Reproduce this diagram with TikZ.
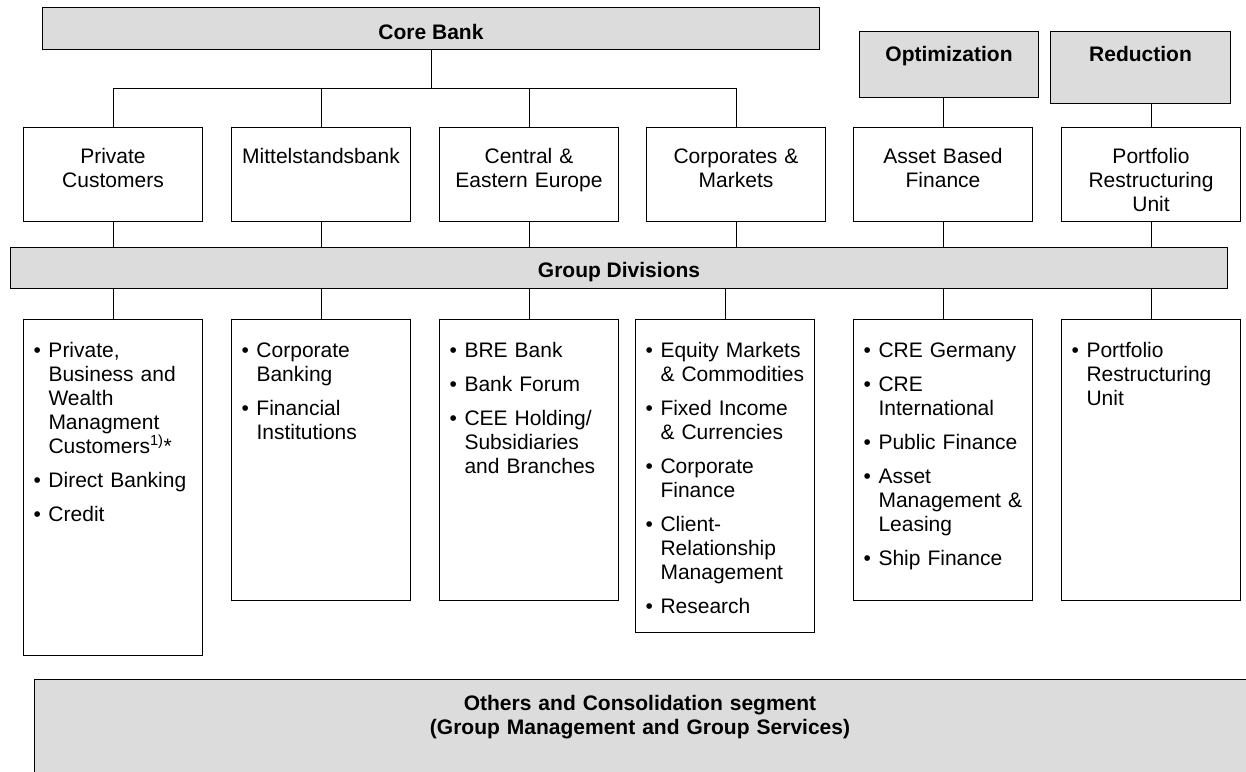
\documentclass[tikz,border=0pt]{standalone}
\usepackage{fontspec}
\setmainfont{Liberation Sans}
\definecolor{bargray}{RGB}{220,220,220}
\newcommand{\bitem}[1]{\hangindent=15pt\hangafter=1\noindent\makebox[15pt][l]{\textbullet}#1\par\vspace{10pt}}

\begin{document}
\begin{tikzpicture}[x=1pt, y=-1pt, line width=1pt,
            every node/.style={font=\fontsize{21}{24}\selectfont},
            headbox/.style={draw, fill=bargray, anchor=north west, inner sep=0pt,
                font=\fontsize{21}{24}\selectfont\bfseries},
            unitbox/.style={draw, anchor=north west, minimum width=179pt, text width=159pt,
                inner xsep=10pt, inner ysep=0pt, align=center, text height=36pt, text depth=58pt},
            listbox/.style={draw, anchor=north west, text width=159pt, inner xsep=10pt,
                inner ysep=0pt, text height=38pt, text depth=#1}]

            \useasboundingbox (0,0) rectangle (1246,771);

            % heads
            \node[headbox, minimum width=777pt, text height=31.7pt, text depth=10.3pt] (core) at (42,7) {Core Bank};
            \node[headbox, minimum width=179pt, text height=30pt, text depth=36pt] (opt) at (859,31) {Optimization};
            \node[headbox, minimum width=180pt, text height=30pt, text depth=42pt] (red) at (1050,31) {Reduction};

            % segments
            \node[unitbox] (pc) at (23,127) {Private\\Customers};
            \node[unitbox] (msb) at (231,127) {Mittelstandsbank};
            \node[unitbox] (cee) at (439,127) {Central \&\\Eastern Europe};
            \node[unitbox] (cm) at (646,127) {Corporates \&\\Markets};
            \node[unitbox] (abf) at (853,127) {Asset Based\\Finance};
            \node[unitbox] (pru) at (1061,127) {Portfolio\\Restructuring\\Unit};

            \node[headbox, minimum width=1217pt, text height=30pt, text depth=11pt] (gd) at (10,247) {Group Divisions};

            % divisions
            \node[listbox=298pt] (pcl) at (23,319) {\raggedright
                \bitem{Private,\newline Business and\newline Wealth\newline Managment\newline Customers\textsuperscript{1)}*}
                \bitem{Direct Banking}
                \bitem{Credit}};
            \node[listbox=243pt] (msbl) at (231,319) {\raggedright
                \bitem{Corporate\newline Banking}
                \bitem{Financial\newline Institutions}};
            \node[listbox=243pt] (ceel) at (439,319) {\raggedright
                \bitem{BRE Bank}
                \bitem{Bank Forum}
                \bitem{CEE Holding/\newline Subsidiaries\newline and Branches}};
            \node[listbox=275pt] (cml) at (635,319) {\raggedright
                \bitem{Equity Markets\newline \& Commodities}
                \bitem{Fixed Income\newline \& Currencies}
                \bitem{Corporate\newline Finance}
                \bitem{Client-\newline Relationship\newline Management}
                \bitem{Research}};
            \node[listbox=243pt] (abfl) at (853,319) {\raggedright
                \bitem{CRE Germany}
                \bitem{CRE\newline International}
                \bitem{Public Finance}
                \bitem{Asset\newline Management \&\newline Leasing}
                \bitem{Ship Finance}};
            \node[listbox=243pt] (prul) at (1061,319) {\raggedright
                \bitem{Portfolio\newline Restructuring\newline Unit}};

            % others
            \node[draw, fill=bargray, anchor=north west, minimum width=1230pt, minimum height=120pt,
                inner sep=0pt] (oth) at (34,679) {};
            \node[anchor=north, text width=700pt, align=center, inner sep=0pt, text height=31pt,
                text depth=10pt, font=\fontsize{21}{24}\selectfont\bfseries] (othtxt) at (640,679)
                {Others and Consolidation segment\\(Group Management and Group Services)};

            % connectors
            \coordinate (hub) at (431,88);
            \draw (core.south -| hub) -- (hub);
            \foreach \n in {pc,msb,cee,cm}
                \draw (\n.north) |- (hub);
            \draw (abf.north) -- (abf.north |- opt.south);
            \draw (pru.north) -- (pru.north |- red.south);
            \foreach \n in {pc,msb,cee,cm,abf,pru}
                \draw (\n.south) -- (\n.south |- gd.north);
            \foreach \n in {pcl,msbl,ceel,cml,abfl,prul}
                \draw (\n.north) -- (\n.north |- gd.south);
        \end{tikzpicture}
\end{document}
